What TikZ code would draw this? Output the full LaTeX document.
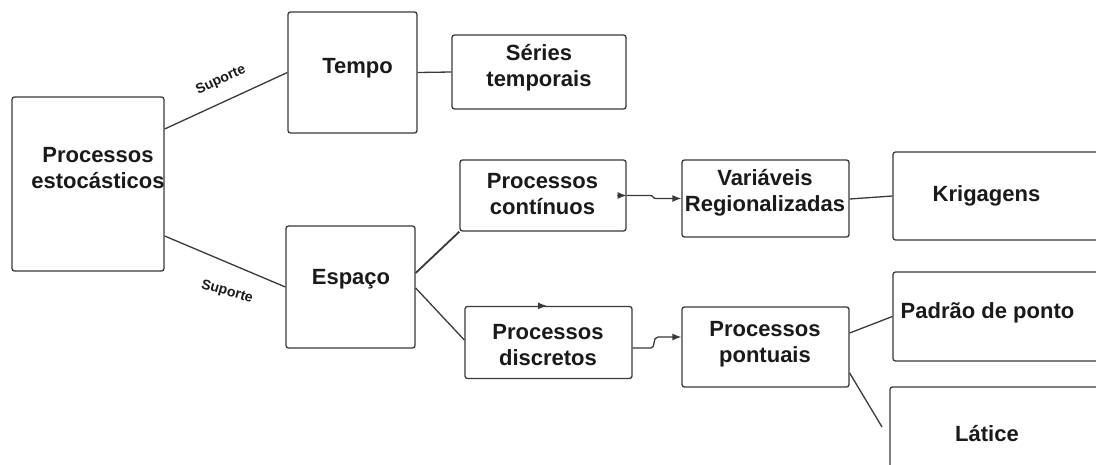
\documentclass[tikz,border=0pt]{standalone}
\usepackage{fontspec}
\setmainfont{Liberation Sans}
\usetikzlibrary{arrows.meta}
\definecolor{ln}{HTML}{3A3A3A}
\definecolor{tx}{HTML}{1A1A1A}
\tikzset{
  box/.style={draw=ln, line width=1.3pt, rounded corners=2.5pt, fill=white, inner sep=0pt},
  txt/.style={text=tx, font=\bfseries\fontsize{22}{26}\selectfont, align=center, inner sep=0pt},
  sup/.style={text=tx, font=\bfseries\fontsize{14}{16}\selectfont, inner sep=0pt},
  conn/.style={draw=ln, line width=1.3pt},
  tip/.style={-{Latex[length=9pt,width=7pt]}}
}
\begin{document}
\begin{tikzpicture}[x=1pt,y=-1pt]
\useasboundingbox (0,0) rectangle (1096,464);
\clip (0,0) rectangle (1096,464);
\fill[white] (0,0) rectangle (1096,464);

% boxes
\node[box, minimum width=152pt, minimum height=174pt] (est) at (88,184) {};
\node[box, minimum width=129pt, minimum height=121pt] (tempo) at (352.5,72.5) {};
\node[box, minimum width=174pt, minimum height=74pt] (series) at (539,72) {};
\node[box, minimum width=129pt, minimum height=122pt] (espaco) at (350.5,287) {};
\node[box, minimum width=166pt, minimum height=71pt] (cont) at (543,195.5) {};
\node[box, minimum width=167pt, minimum height=77pt] (var) at (765.5,198.5) {};
\node[box, minimum width=217pt, minimum height=88pt] (krig) at (1001.5,196) {};
\node[box, minimum width=167pt, minimum height=72pt] (disc) at (548.5,342.5) {};
\node[box, minimum width=167pt, minimum height=80pt] (pont) at (765.5,347) {};
\node[box, minimum width=217pt, minimum height=89pt] (padrao) at (1001.5,316.5) {};
\node[box, minimum width=220pt, minimum height=93pt] (latice) at (1000,433.5) {};

% texts
\node[txt] (t-est) at (98,168.5) {Processos\\estocásticos};
\node[txt] (t-tempo) at (357.5,68) {Tempo};
\node[txt] (t-series) at (539,67.5) {Séries\\temporais};
\node[txt] (t-espaco) at (351,279) {Espaço};
\node[txt] (t-cont) at (542.5,194) {Processos\\contínuos};
\node[txt] (t-var) at (765,192.5) {Variáveis\\Regionalizadas};
\node[txt] (t-krig) at (986.5,196) {Krigagens};
\node[txt] (t-disc) at (548,345.5) {Processos\\discretos};
\node[txt] (t-pont) at (765,344.5) {Processos\\pontuais};
\node[txt] (t-padrao) at (987.5,313) {Padrão de ponto};
\node[txt] (t-latice) at (987,434) {Látice};

% connectors
\draw[conn] ([yshift=55pt]est.east) -- (tempo.west);
\node[sup, rotate=24.5] (s1) at (221,80) {Suporte};
\draw[conn] ([yshift=-52pt]est.east) -- (espaco.west);
\node[sup, rotate=-16] (s2) at (227,292) {Suporte};
\draw[conn] (tempo.east) -- (series.west);
\draw[conn, line width=1.8pt] ([yshift=14pt]espaco.east) -- (cont.south west);
\draw[conn] ([yshift=-1pt]espaco.east) -- ([yshift=2.5pt]disc.west);

\draw[conn, tip] ([xshift=-10pt]cont.east) -- (cont.east);
\draw[conn, tip] (cont.east) -- (650,195.5) .. controls (654,195.5) and (652,198.5) .. (656,198.5) -- (var.west);

\draw[conn, tip] ([xshift=-11pt]disc.north) -- ([xshift=-1.5pt]disc.north);
\draw[conn, tip] ([yshift=-5.5pt]disc.east) -- (651,348) .. controls (656,348) and (652,337) .. (658,337) -- ([yshift=10pt]pont.west);

\draw[conn] ([yshift=-0.5pt]var.east) -- (krig.west);
\draw[conn] ([yshift=14pt]pont.east) -- (padrao.west);
\coordinate (latend) at (882,427);
\draw[conn] ([yshift=-26pt]pont.east) -- (latend);
\end{tikzpicture}
\end{document}
